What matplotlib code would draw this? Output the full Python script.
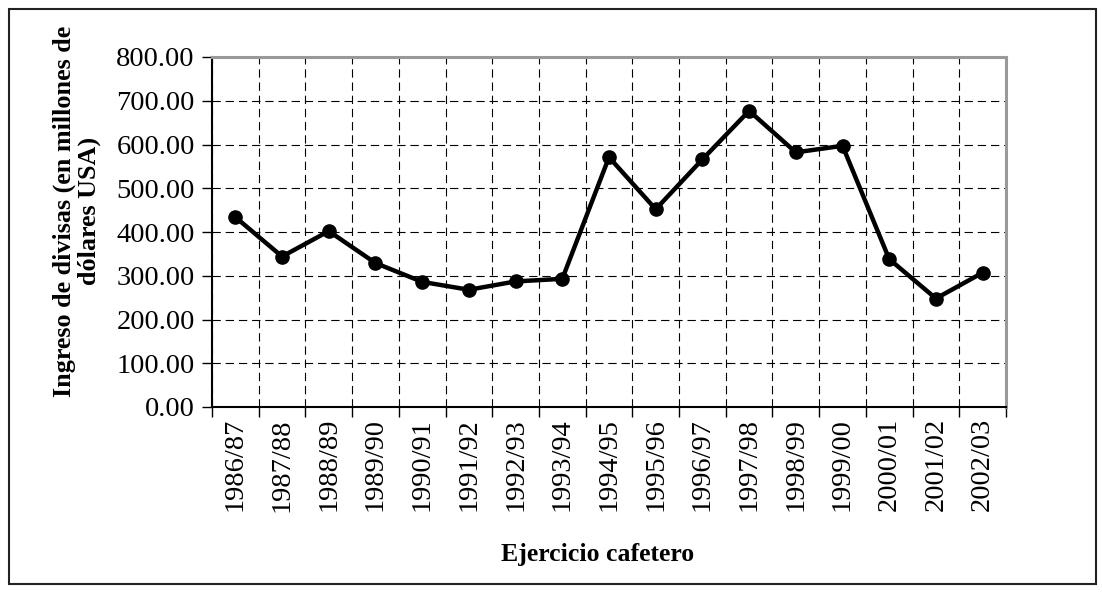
import matplotlib
matplotlib.use("Agg")
import matplotlib.pyplot as plt
from matplotlib.patches import Rectangle
from matplotlib.ticker import FixedLocator, FormatStrFormatter

categories = ["1986/87", "1987/88", "1988/89", "1989/90", "1990/91", "1991/92",
              "1992/93", "1993/94", "1994/95", "1995/96", "1996/97", "1997/98",
              "1998/99", "1999/00", "2000/01", "2001/02", "2002/03"]
values = [434, 344, 402, 329, 286, 268, 287, 293, 571, 452, 566, 677,
          582, 597, 338, 248, 307]
yticks = [0, 100, 200, 300, 400, 500, 600, 700, 800]

plt.rcParams['font.family'] = ['Liberation Serif', 'DejaVu Serif']
plt.rcParams['lines.scale_dashes'] = False

W, H = 1102, 592
fig = plt.figure(figsize=(W / 100, H / 100), dpi=100)
L, R, T, B = 212, 1006, 57, 407
ax = fig.add_axes([L / W, 1 - B / H, (R - L) / W, (B - T) / H])

x = list(range(len(categories)))
ax.plot(x, values, color='black', lw=3.2, marker='o', markersize=9.5,
        zorder=5, clip_on=False)

ax.set_xlim(-0.5, len(categories) - 0.5)
ax.set_ylim(0, 800)
ax.set_yticks(yticks)
ax.yaxis.set_major_formatter(FormatStrFormatter('%.2f'))
ax.set_xticks(x)
ax.set_xticklabels(categories, rotation=90, fontsize=20.5)
ax.xaxis.set_minor_locator(FixedLocator([i - 0.5 for i in range(len(categories) + 1)]))
ax.tick_params(axis='x', which='major', length=0, pad=8)
ax.tick_params(axis='x', which='minor', length=7.5, width=1, direction='out', color='black')
ax.tick_params(axis='y', which='major', length=7.5, width=1, direction='out',
               labelsize=20.5, pad=5)

dash = (0, (6.0, 3.5))
ax.grid(True, axis='y', which='major', color='black', lw=0.8, linestyle=dash)
ax.grid(True, axis='x', which='minor', color='black', lw=0.8, linestyle=dash)
ax.grid(False, axis='x', which='major')
ax.set_axisbelow(True)

for s in ['left', 'bottom']:
    ax.spines[s].set_color('black')
    ax.spines[s].set_linewidth(1.5)
for s in ['top', 'right']:
    ax.spines[s].set_color('#999999')
    ax.spines[s].set_linewidth(2.2)

fig.text(598 / W, 1 - 554 / H, "Ejercicio cafetero", ha='center', va='center',
         fontsize=18.5, fontweight='bold')
fig.text(77 / W, 1 - 211 / H, "Ingreso de divisas (en millones de\ndólares USA)",
         ha='center', va='center', rotation=90, fontsize=18.8, fontweight='bold',
         multialignment='center', linespacing=1.1)

fl, ft, fr, fb = 8.5, 9, 1096, 584
frame = Rectangle((fl / W, 1 - fb / H), (fr - fl) / W, (fb - ft) / H,
                  transform=fig.transFigure, fill=False, edgecolor='#222222', lw=1.5)
fig.add_artist(frame)

fig.savefig("out.png", dpi=100)
